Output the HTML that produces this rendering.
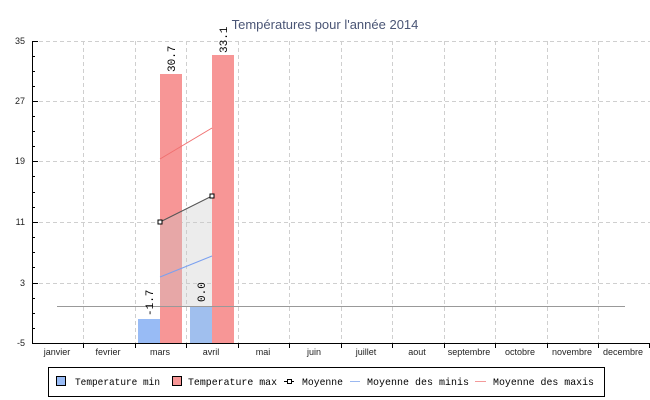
<!DOCTYPE html>
<html><head><meta charset="utf-8"><style>body{margin:0;background:#fff}svg{display:block}</style></head><body>
<svg width="650" height="400" xmlns="http://www.w3.org/2000/svg" font-family="Liberation Sans, sans-serif">
<rect width="650" height="400" fill="#fff"/>
<text x="325" y="29" text-anchor="middle" font-size="13" fill="#4a5575">Températures pour l'année 2014</text>
<g stroke="#cfcfcf" stroke-dasharray="4,3" stroke-width="1">
<line x1="32" y1="41.5" x2="650" y2="41.5"/><line x1="32" y1="101.5" x2="650" y2="101.5"/><line x1="32" y1="161.5" x2="650" y2="161.5"/><line x1="32" y1="222.5" x2="650" y2="222.5"/><line x1="32" y1="283.5" x2="650" y2="283.5"/>
<line x1="83.5" y1="41" x2="83.5" y2="343"/><line x1="135.5" y1="41" x2="135.5" y2="343"/><line x1="186.5" y1="41" x2="186.5" y2="343"/><line x1="238.5" y1="41" x2="238.5" y2="343"/><line x1="289.5" y1="41" x2="289.5" y2="343"/><line x1="341.5" y1="41" x2="341.5" y2="343"/><line x1="392.5" y1="41" x2="392.5" y2="343"/><line x1="444.5" y1="41" x2="444.5" y2="343"/><line x1="495.5" y1="41" x2="495.5" y2="343"/><line x1="547.5" y1="41" x2="547.5" y2="343"/><line x1="598.5" y1="41" x2="598.5" y2="343"/>
</g>
<rect x="138" y="319" width="22" height="24" fill="#98bbf5"/>
<rect x="190" y="306" width="22" height="37" fill="#a0bfee"/>
<rect x="160" y="74" width="22" height="269" fill="#f79696"/>
<rect x="212" y="55" width="22" height="288" fill="#f79696"/>
<polygon points="160,222 212,196 212,306 160,306" fill="#c8c8c8" fill-opacity="0.35"/>
<line x1="160" y1="277" x2="212" y2="256" stroke="#7aa0f0"/>
<line x1="160" y1="159" x2="212" y2="128" stroke="#f07070"/>
<line x1="160" y1="222" x2="212" y2="196" stroke="#555"/>
<rect x="158" y="220" width="4" height="4" fill="#fff" stroke="#000"/>
<rect x="210" y="194" width="4" height="4" fill="#fff" stroke="#000"/>
<line x1="57" y1="306.5" x2="625" y2="306.5" stroke="#999"/>
<g stroke="#000"><line x1="32.5" y1="41" x2="32.5" y2="343"/><line x1="32" y1="343.5" x2="650" y2="343.5"/>
<path d="M32 41.5h6M32 56.5h3M32 71.5h3M32 86.5h3M32 101.5h6M32 116.5h3M32 131.5h3M32 146.5h3M32 161.5h6M32 176.5h3M32 192.5h3M32 207.5h3M32 222.5h6M32 237.5h3M32 252.5h3M32 267.5h3M32 283.5h6M32 298.5h3M32 313.5h3M32 328.5h3M32 343.5h6"/>
<path d="M83.5 343v5M135.5 343v5M186.5 343v5M238.5 343v5M289.5 343v5M341.5 343v5M392.5 343v5M444.5 343v5M495.5 343v5M547.5 343v5M598.5 343v5M649.5 343v5"/></g>
<g font-size="9" text-anchor="end" fill="#222"><text x="25" y="44">35</text><text x="25" y="104">27</text><text x="25" y="164">19</text><text x="25" y="225">11</text><text x="25" y="286">3</text><text x="25" y="346">-5</text></g>
<g font-size="9" text-anchor="middle" fill="#222"><text x="57" y="355">janvier</text><text x="108" y="355">fevrier</text><text x="160" y="355">mars</text><text x="211" y="355">avril</text><text x="263" y="355">mai</text><text x="314" y="355">juin</text><text x="366" y="355">juillet</text><text x="417" y="355">aout</text><text x="469" y="355">septembre</text><text x="520" y="355">octobre</text><text x="572" y="355">novembre</text><text x="623" y="355">decembre</text></g>
<g font-family="Liberation Mono, monospace" font-size="11" fill="#000">
<text transform="translate(175,72) rotate(-90)">30.7</text>
<text transform="translate(227,53) rotate(-90)">33.1</text>
<text transform="translate(153,316) rotate(-90)">-1.7</text>
<text transform="translate(205,302) rotate(-90)">0.0</text>
</g>
<rect x="48.5" y="367.5" width="556" height="29" fill="#fff" stroke="#000"/>
<g font-family="Liberation Mono, monospace" font-size="10.5" fill="#000" lengthAdjust="spacingAndGlyphs">
<rect x="56.5" y="376.5" width="9" height="9" fill="#98bbf5" stroke="#000"/><text x="75" y="385" textLength="85" lengthAdjust="spacingAndGlyphs">Temperature min</text>
<rect x="172.5" y="376.5" width="9" height="9" fill="#f79696" stroke="#000"/><text x="188" y="385" textLength="89" lengthAdjust="spacingAndGlyphs">Temperature max</text>
<line x1="284" y1="381.5" x2="294" y2="381.5" stroke="#000"/><rect x="287.5" y="379.5" width="4" height="4" fill="#fff" stroke="#000"/><text x="302" y="385" textLength="41" lengthAdjust="spacingAndGlyphs">Moyenne</text>
<line x1="350" y1="381.5" x2="360" y2="381.5" stroke="#9bb8f0"/><text x="367" y="385" textLength="102" lengthAdjust="spacingAndGlyphs">Moyenne des minis</text>
<line x1="475" y1="381.5" x2="486" y2="381.5" stroke="#f39a9a"/><text x="493" y="385" textLength="101" lengthAdjust="spacingAndGlyphs">Moyenne des maxis</text>
</g>
</svg>
</body></html>
